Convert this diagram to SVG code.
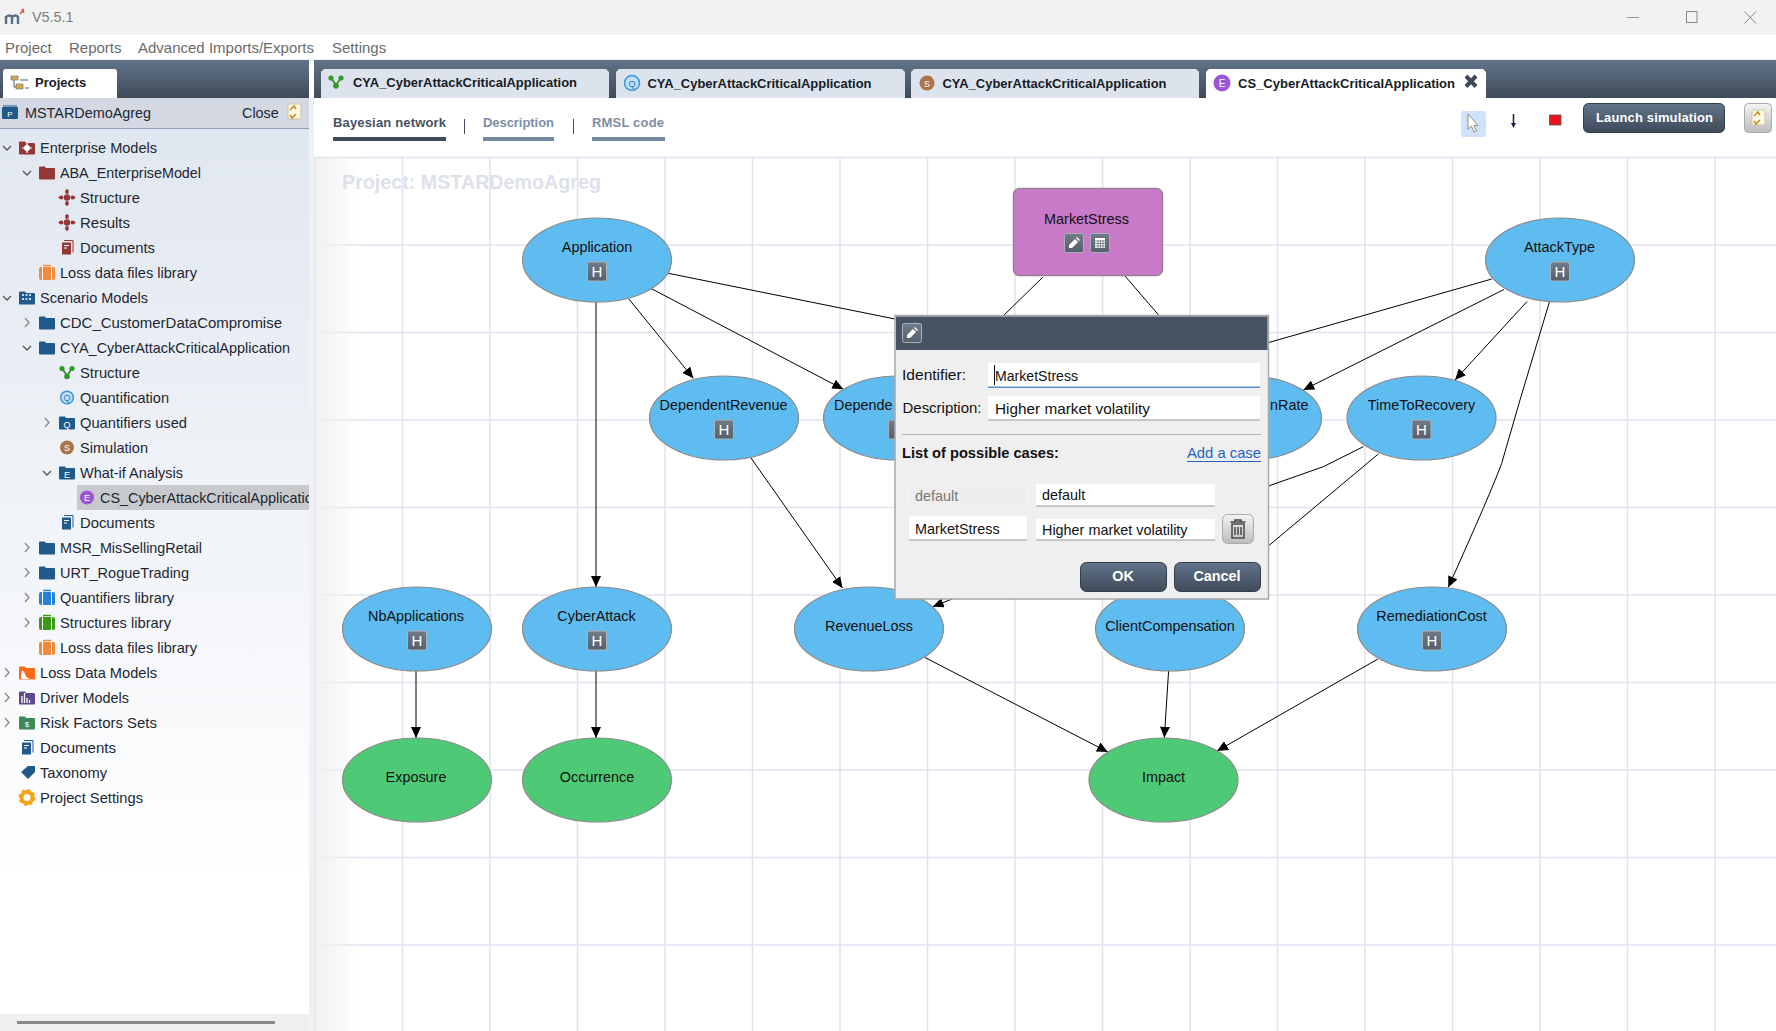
<svg xmlns="http://www.w3.org/2000/svg" width="1776" height="1031" viewBox="0 0 1776 1031">
<style>
text{font-family:"Liberation Sans",Arial,sans-serif;font-size:14.4px;fill:#111}
.t{fill:#1c2733}
.m{fill:#6b6b6b;font-size:15px}
.tab{font-size:13px;font-weight:bold;fill:#151b24}
.sub{font-size:13px;font-weight:bold;fill:#7d8da5}
.c{text-anchor:middle}
.wb{font-weight:bold;fill:#fff;text-anchor:middle}
.g{stroke:#dfe3ee;stroke-width:1.5;fill:none}
.e{stroke:#000;stroke-width:1;fill:none;marker-end:url(#arr)}
.l{stroke:#000;stroke-width:1;fill:none}
.n{stroke:#8a8a8a;stroke-width:1.2}
.blue{fill:#5fbcf0}
.green{fill:#4eca76}
.hb{fill:url(#hg);stroke:#a9b1ba;stroke-width:1}
.h{fill:#fff;font-size:15px;text-anchor:middle}
.inp{fill:#fff}
.ch{fill:none;stroke:#555;stroke-width:1.3}
.btn{fill:url(#dark);stroke:#333d4a;stroke-width:1}
</style>
<defs>
<linearGradient id="dark" x1="0" y1="0" x2="0" y2="1"><stop offset="0" stop-color="#62748a"/><stop offset="1" stop-color="#3f4a59"/></linearGradient>
<linearGradient id="hg" x1="0" y1="0" x2="0" y2="1"><stop offset="0" stop-color="#717c89"/><stop offset="1" stop-color="#56606c"/></linearGradient>
<linearGradient id="tree" x1="0" y1="0" x2="0" y2="1"><stop offset="0" stop-color="#e1e7f0"/><stop offset="0.85" stop-color="#fff"/><stop offset="1" stop-color="#fff"/></linearGradient>
<linearGradient id="fade" x1="0" y1="0" x2="1" y2="0"><stop offset="0" stop-color="#f1f1f1"/><stop offset="1" stop-color="#f1f1f1" stop-opacity="0"/></linearGradient>
<linearGradient id="gb" x1="0" y1="0" x2="0" y2="1"><stop offset="0" stop-color="#f4f4f4"/><stop offset="1" stop-color="#bcbcbc"/></linearGradient>
<marker id="arr" markerUnits="userSpaceOnUse" markerWidth="12" markerHeight="10" refX="11" refY="5" orient="auto"><path d="M0 0L11 5L0 10Z" fill="#000"/></marker>
<clipPath id="treeclip"><rect x="0" y="129" width="309" height="885"/></clipPath>
<g id="folder"><path d="M-8-5q0-1 1-1h5l1 1.5h8q1 0 1 1V6q0 1-1 1H-7q-1 0-1-1Z" fill="currentColor"/></g>
<g id="suit"><rect x="-8" y="-5.500" width="16" height="13" rx="2" fill="currentColor"/><path d="M-4.500-5.500V-7.500H4.500V-5.500M-4.500-5.500V7.500M4.500-5.500V7.500" fill="none" stroke="#fff" stroke-width="1"/><path d="M-4-7H4" stroke="currentColor" stroke-width="1.500"/></g>
<g id="doc"><rect x="-5" y="-5" width="9" height="12" fill="currentColor"/><path d="M-3-7H6V5" fill="none" stroke="currentColor" stroke-width="1"/><path d="M-3-2H2M-3 0.500H0" stroke="#fff" stroke-width="1"/></g>
<g id="cross" fill="currentColor"><circle r="3.200"/><circle cy="-5.500" r="1.900"/><circle cy="5.500" r="1.900"/><circle cx="-5.500" r="1.900"/><circle cx="5.500" r="1.900"/><path d="M-6.500-2L-8.800 0L-6.500 2ZM6.500-2L8.800 0L6.500 2ZM-2-6.500L0-8.800L2-6.500ZM-2 6.500L0 8.800L2 6.500Z"/></g>
<g id="struct"><path d="M-5-4L0 3L5-4" fill="none" stroke="#2f8f2a" stroke-width="1.800"/><circle cx="-5" cy="-4" r="2.600" fill="#2f9a2a"/><circle cx="5" cy="-4" r="2.600" fill="#2f9a2a"/><circle cy="4" r="2.800" fill="#2f9a2a"/></g>
<g id="pen"><path d="M-5 5L-5 2L1-4L4-1L-2 5Z" fill="#fff"/><path d="M2-5L3-6L6-3L5-2Z" fill="#fff"/></g>
<g id="swap"><rect x="-6" y="-8" width="13" height="15" rx="1" fill="#fdf8e6" stroke="#c9c4a8"/><path d="M-4-2L0-6L2-3M2 2L-2 6L-4 3" stroke="#c98a12" stroke-width="1.500" fill="none"/></g>
</defs>

<rect width="1776" height="1031" fill="#fff"/>
<g id="titlebar">
<rect width="1776" height="35" fill="#f2f2f2"/>
<path d="M6 24V16M6 17Q10 14 12 17V24M12 17Q16 14 18 17V24" fill="none" stroke="#5c6f88" stroke-width="2.400"/>
<path d="M20 14L24 9M22 9L24 13" stroke="#d8564a" stroke-width="1.500"/>
<text x="32" y="22" style="fill:#7d7d7d">V5.5.1</text>
<path d="M1627 17.500H1639" stroke="#999"/>
<rect x="1686.500" y="11.500" width="10.500" height="11" fill="none" stroke="#888"/>
<path d="M1744.500 11.500L1756 23.500M1756 11.500L1744.500 23.500" stroke="#888"/>
</g>
<g id="menubar">
<rect y="35" width="1776" height="24" fill="#fff"/>
<rect y="59" width="1776" height="2" fill="#eef0f3"/>
<text x="5" y="53" class="m">Project</text>
<text x="69" y="53" class="m">Reports</text>
<text x="138" y="53" class="m">Advanced Imports/Exports</text>
<text x="332" y="53" class="m">Settings</text>
</g>

<g id="left-panel">
<rect y="60" width="309" height="38" fill="url(#dark)"/>
<path d="M3 98V72q0-3 3-3H114q3 0 3 3V98Z" fill="#fff"/>
<path d="M11 76h7v4h-7zM16 84h7v5h-7z" fill="#d8a948" stroke="#6a7a8c" stroke-width="0.700"/>
<path d="M14 80V87H16M20 80H28M25 88H29" stroke="#4a5a6c" fill="none"/>
<text x="35" y="87" class="tab">Projects</text>
<rect y="98" width="309" height="30" fill="#d3d8e2"/>
<rect y="128" width="309" height="1.500" fill="#8ea0b8"/>
<rect x="2" y="107" width="16" height="12" rx="1" fill="#1f5a8a"/>
<path d="M3 106H17" stroke="#1f5a8a" stroke-width="1"/>
<text x="10" y="117" class="c" style="font-size:8px;fill:#fff">P</text>
<text x="25" y="118" class="t">MSTARDemoAgreg</text>
<text x="242" y="118" class="t">Close</text>
<use href="#swap" x="294" y="112"/>
<rect y="129" width="309" height="885" fill="url(#tree)"/>
<rect y="1014" width="315" height="17" fill="#efefef"/>
<rect x="309" y="98" width="5" height="933" fill="#f0f1f4"/>
<rect x="17" y="1021" width="258" height="3" fill="#888"/>
<rect x="77" y="485" width="232" height="25" fill="#c9cacd"/>

<g id="tree-icons">
<use href="#folder" x="27" y="147.500" style="color:#953737"/><circle cx="27" cy="148" r="3" fill="#fff"/><path d="M27 143v10M22 148h10" stroke="#fff" stroke-width="1.200"/>
<use href="#folder" x="47" y="172.500" style="color:#953737"/>
<use href="#cross" x="67" y="197.500" style="color:#953737"/>
<use href="#cross" x="67" y="222.500" style="color:#953737"/>
<use href="#doc" x="67" y="247.500" style="color:#953737"/>
<use href="#suit" x="47" y="272.500" style="color:#f08a3c"/>
<use href="#folder" x="27" y="297.500" style="color:#1f5a8a"/><path d="M22 295h10M22 299h10" stroke="#fff" stroke-width="1.500" stroke-dasharray="2 1.500"/>
<use href="#folder" x="47" y="322.500" style="color:#1f5a8a"/>
<use href="#folder" x="47" y="347.500" style="color:#1f5a8a"/>
<use href="#struct" x="67" y="372.500"/>
<circle cx="67" cy="397.500" r="6.300" fill="#bfe0f8" stroke="#3a94dc" stroke-width="1.500"/><text x="67" y="401" class="c" style="font-size:9px;fill:#2a78c0">Q</text>
<use href="#folder" x="67" y="422.500" style="color:#1f5a8a"/><text x="67" y="428" class="c" style="font-size:9px;fill:#fff">Q</text>
<circle cx="67" cy="447.500" r="7" fill="#ad7448"/><text x="67" y="451" class="c" style="font-size:9px;fill:#fff">S</text>
<use href="#folder" x="67" y="472.500" style="color:#1f5a8a"/><text x="67" y="478" class="c" style="font-size:9px;fill:#fff">E</text>
<circle cx="87" cy="497.500" r="7" fill="#9a56d4"/><text x="87" y="501" class="c" style="font-size:9px;fill:#fff">E</text>
<use href="#doc" x="67" y="522.500" style="color:#1f5a8a"/>
<use href="#folder" x="47" y="547.500" style="color:#1f5a8a"/>
<use href="#folder" x="47" y="572.500" style="color:#1f5a8a"/>
<use href="#suit" x="47" y="597.500" style="color:#2282d8"/>
<use href="#suit" x="47" y="622.500" style="color:#3a9a14"/>
<use href="#suit" x="47" y="647.500" style="color:#f08a3c"/>
<use href="#folder" x="27" y="672.500" style="color:#ff6a1a"/><path d="M21 679V673Q23 668 25 674T33 679Z" fill="#fff"/>
<use href="#folder" x="27" y="697.500" style="color:#5c4a8c"/><path d="M22 703V696M24.500 703V693M27 703V698M29.500 703V700" stroke="#fff" stroke-width="1.300"/>
<use href="#folder" x="27" y="722.500" style="color:#3d8a58"/><text x="27" y="727" class="c" style="font-size:8px;fill:#fff">$</text>
<use href="#doc" x="27" y="747.500" style="color:#1f5a8a"/>
<path d="M21 772L28 766H35V772L28 779Z" fill="#1f5a8a"/>
<circle cx="27" cy="797.500" r="5.500" fill="none" stroke="#f4a31c" stroke-width="4"/><circle cx="27" cy="797.500" r="7.500" fill="none" stroke="#f4a31c" stroke-width="2" stroke-dasharray="3 2.900"/>
</g>
<g id="tree-chevrons" class="ch">
<path d="M3 146L7 150L11 146M23 171L27 175L31 171M3 296L7 300L11 296M23 346L27 350L31 346M43 471L47 475L51 471"/>
<path d="M25 318L29 322.500L25 327M45 418L49 422.500L45 427M25 543L29 547.500L25 552M25 568L29 572.500L25 577M25 593L29 597.500L25 602M25 618L29 622.500L25 627M5 668L9 672.500L5 677M5 693L9 697.500L5 702M5 718L9 722.500L5 727" stroke="#888"/>
</g>
<g id="tree-labels" clip-path="url(#treeclip)" lengthAdjust="spacingAndGlyphs">
<text x="40" y="152.500" class="t" textLength="117" lengthAdjust="spacingAndGlyphs">Enterprise Models</text>
<text x="60" y="177.500" class="t" textLength="141" lengthAdjust="spacingAndGlyphs">ABA_EnterpriseModel</text>
<text x="80" y="202.500" class="t" textLength="60" lengthAdjust="spacingAndGlyphs">Structure</text>
<text x="80" y="227.500" class="t" textLength="50" lengthAdjust="spacingAndGlyphs">Results</text>
<text x="80" y="252.500" class="t" textLength="75" lengthAdjust="spacingAndGlyphs">Documents</text>
<text x="60" y="277.500" class="t" textLength="137" lengthAdjust="spacingAndGlyphs">Loss data files library</text>
<text x="40" y="302.500" class="t" textLength="108" lengthAdjust="spacingAndGlyphs">Scenario Models</text>
<text x="60" y="327.500" class="t" textLength="222" lengthAdjust="spacingAndGlyphs">CDC_CustomerDataCompromise</text>
<text x="60" y="352.500" class="t" textLength="230" lengthAdjust="spacingAndGlyphs">CYA_CyberAttackCriticalApplication</text>
<text x="80" y="377.500" class="t" textLength="60" lengthAdjust="spacingAndGlyphs">Structure</text>
<text x="80" y="402.500" class="t" textLength="89" lengthAdjust="spacingAndGlyphs">Quantification</text>
<text x="80" y="427.500" class="t" textLength="107" lengthAdjust="spacingAndGlyphs">Quantifiers used</text>
<text x="80" y="452.500" class="t" textLength="68" lengthAdjust="spacingAndGlyphs">Simulation</text>
<text x="80" y="477.500" class="t" textLength="103" lengthAdjust="spacingAndGlyphs">What-if Analysis</text>
<text x="100" y="502.500" class="t">CS_CyberAttackCriticalApplication</text>
<text x="80" y="527.500" class="t" textLength="75" lengthAdjust="spacingAndGlyphs">Documents</text>
<text x="60" y="552.500" class="t" textLength="142" lengthAdjust="spacingAndGlyphs">MSR_MisSellingRetail</text>
<text x="60" y="577.500" class="t" textLength="129" lengthAdjust="spacingAndGlyphs">URT_RogueTrading</text>
<text x="60" y="602.500" class="t" textLength="114" lengthAdjust="spacingAndGlyphs">Quantifiers library</text>
<text x="60" y="627.500" class="t" textLength="111" lengthAdjust="spacingAndGlyphs">Structures library</text>
<text x="60" y="652.500" class="t" textLength="137" lengthAdjust="spacingAndGlyphs">Loss data files library</text>
<text x="40" y="677.500" class="t" textLength="117" lengthAdjust="spacingAndGlyphs">Loss Data Models</text>
<text x="40" y="702.500" class="t" textLength="89" lengthAdjust="spacingAndGlyphs">Driver Models</text>
<text x="40" y="727.500" class="t" textLength="117" lengthAdjust="spacingAndGlyphs">Risk Factors Sets</text>
<text x="40" y="752.500" class="t" textLength="76" lengthAdjust="spacingAndGlyphs">Documents</text>
<text x="40" y="777.500" class="t" textLength="67" lengthAdjust="spacingAndGlyphs">Taxonomy</text>
<text x="40" y="802.500" class="t" textLength="103" lengthAdjust="spacingAndGlyphs">Project Settings</text>
</g>
</g>

<g id="tabs">
<rect x="314" y="60" width="1462" height="38" fill="url(#dark)"/>
<path d="M321 98V72l3-3H606l3 3V98Z" fill="#dce3ed"/>
<path d="M616 98V72l3-3H902l3 3V98Z" fill="#dce3ed"/>
<path d="M911 98V72l3-3H1196l3 3V98Z" fill="#dce3ed"/>
<path d="M1206 98V72l3-3H1483l3 3V98Z" fill="#fff"/>
<use href="#struct" x="336" y="82"/>
<text x="353" y="87" class="tab" textLength="224" lengthAdjust="spacingAndGlyphs">CYA_CyberAttackCriticalApplication</text>
<circle cx="632" cy="83" r="7.500" fill="#bfe0f8" stroke="#3a94dc" stroke-width="1.500"/><text x="632" y="87" class="c" style="font-size:9px;fill:#2a78c0">Q</text>
<text x="647.500" y="88" class="tab" textLength="224" lengthAdjust="spacingAndGlyphs">CYA_CyberAttackCriticalApplication</text>
<circle cx="927" cy="83" r="7.500" fill="#ad7448"/><text x="927" y="87" class="c" style="font-size:9px;fill:#fff">S</text>
<text x="942.500" y="88" class="tab" textLength="224" lengthAdjust="spacingAndGlyphs">CYA_CyberAttackCriticalApplication</text>
<circle cx="1222" cy="83" r="8.500" fill="#9a56d4"/><text x="1222" y="87" class="c" style="font-size:10px;fill:#fff">E</text>
<text x="1238" y="88" class="tab" textLength="217" lengthAdjust="spacingAndGlyphs">CS_CyberAttackCriticalApplication</text>
<path d="M1466 76L1476 86.500M1476 76L1466 86.500" stroke="#3f4a59" stroke-width="4"/>
</g>

<g id="subnav">
<text x="333" y="127" class="sub" style="fill:#46525f" textLength="113">Bayesian network</text>
<rect x="333" y="137" width="113" height="4" fill="#3f4a5a"/>
<path d="M464.500 119V134M573.500 119V134" stroke="#3f4a5a" stroke-width="1"/>
<text x="483" y="127" class="sub" textLength="71">Description</text>
<rect x="483" y="137" width="71" height="4" fill="#748aa3"/>
<text x="592" y="127" class="sub" textLength="72">RMSL code</text>
<rect x="592" y="137" width="73" height="4" fill="#748aa3"/>
</g>

<g id="toolbar">
<rect x="1461" y="111" width="25" height="26" rx="3" fill="#cfe2fa"/>
<path d="M1468 114V129L1471.500 126L1474 132L1476.500 131L1474 125.500H1478Z" fill="#fff" stroke="#7a7a60" stroke-width="0.800"/>
<path d="M1513.500 114V124" stroke="#1a1a4a" stroke-width="1.500"/><path d="M1511 123H1516L1513.500 128Z" fill="#1a1a4a"/>
<rect x="1549.500" y="115" width="11.500" height="10" fill="#ec141c" stroke="#555" stroke-width="0.800"/>
<rect x="1583.500" y="103.500" width="141" height="29" rx="5" class="btn"/>
<text x="1596" y="122" style="font-size:13px;font-weight:bold;fill:#fff" textLength="117">Launch simulation</text>
<rect x="1744.500" y="103.500" width="27" height="29" rx="4" fill="url(#gb)" stroke="#aaa"/>
<use href="#swap" x="1758" y="118"/>
</g>

<g id="canvas-grid">
<path class="g" d="M314 157.500H1776M315 245H1776M315 332.500H1776M315 420H1776M315 507.500H1776M315 595H1776M315 682.500H1776M315 770H1776M315 857.500H1776M315 945H1776"/>
<path class="g" d="M315 158V1031M402.500 158V1031M490 158V1031M577.500 158V1031M665 158V1031M752.500 158V1031M840 158V1031M927.500 158V1031M1015 158V1031M1102.500 158V1031M1190 158V1031M1277.500 158V1031M1365 158V1031M1452.500 158V1031M1540 158V1031M1627.500 158V1031M1715 158V1031"/>
<rect x="316" y="158" width="46" height="873" fill="url(#fade)"/>
<text x="342" y="189" style="font-size:20px;font-weight:bold;fill:#dde1e9" textLength="259" lengthAdjust="spacingAndGlyphs">Project: MSTARDemoAgreg</text>
</g>

<g id="connectors">
<path class="l" d="M668.300 273.300L900 320"/>
<path class="e" d="M628.300 298.300L693.300 378.300"/>
<path class="e" d="M650.700 288.300L843.300 389.300"/>
<path class="e" d="M596 302V587"/>
<path class="l" d="M1042.700 277.300L1000 319"/>
<path class="l" d="M1125 276L1162 319"/>
<path class="l" d="M1491.800 279L1260 345"/>
<path class="e" d="M1504 289.500L1303.300 390"/>
<path class="e" d="M1527 301.500L1455 380"/>
<path class="e" d="M1550 300L1520 400L1501.700 463.300Q1492 490 1448.300 587.300"/>
<path class="l" d="M1363.300 446.700L1323.300 466.700L1260 489"/>
<path class="l" d="M1378.300 454L1260 553"/>
<path class="e" d="M751 458L842.500 588"/>
<path class="e" d="M1000 580L932.700 606.700"/>
<path class="e" d="M924.600 657.300L1107.900 752"/>
<path class="e" d="M1168.600 671L1164.300 737.700"/>
<path class="e" d="M1377.900 659L1217 751"/>
<path class="e" d="M416 671V738"/>
<path class="e" d="M596 671V738"/>
</g>

<g id="node-Application"><ellipse class="n blue" cx="597" cy="260" rx="74.500" ry="42"/><text x="597" y="252" class="c">Application</text><rect class="hb" x="587.500" y="262" width="19" height="19" rx="2"/><text x="597" y="277" class="h">H</text></g>
<g id="node-DependentRevenue"><ellipse class="n blue" cx="724" cy="418" rx="74.500" ry="42"/><text x="723.500" y="410" class="c">DependentRevenue</text><rect class="hb" x="714.500" y="420" width="19" height="19" rx="2"/><text x="724" y="435" class="h">H</text></g>
<g id="node-Dependent"><ellipse class="n blue" cx="898" cy="418" rx="74.500" ry="42"/><text x="834" y="410">Depende</text><rect class="hb" x="888.500" y="420" width="19" height="19" rx="2"/></g>
<g id="node-Rate"><ellipse class="n blue" cx="1247" cy="418" rx="74.500" ry="42"/><text x="1270" y="410">nRate</text></g>
<g id="node-TimeToRecovery"><ellipse class="n blue" cx="1421.500" cy="418" rx="74.500" ry="42"/><text x="1421.500" y="410" class="c">TimeToRecovery</text><rect class="hb" x="1412" y="420" width="19" height="19" rx="2"/><text x="1421.500" y="435" class="h">H</text></g>
<g id="node-AttackType"><ellipse class="n blue" cx="1560" cy="260" rx="74.500" ry="42"/><text x="1559.500" y="252" class="c">AttackType</text><rect class="hb" x="1550.500" y="262" width="19" height="19" rx="2"/><text x="1560" y="277" class="h">H</text></g>
<g id="node-MarketStress"><rect x="1013.500" y="188.500" width="149" height="87" rx="6" fill="#c879c8" stroke="#998099" stroke-width="1.500"/><text x="1086.500" y="224" class="c">MarketStress</text>
<rect class="hb" x="1064.500" y="233.500" width="19" height="19" rx="2"/><use href="#pen" x="1074" y="243"/>
<rect class="hb" x="1090.500" y="233.500" width="19" height="19" rx="2"/><path d="M1095 238H1105V248H1095Z" fill="#fff"/><path d="M1095 241H1105M1095 243.500H1105M1095 246H1105M1098 240V248M1100.500 240V248M1103 240V248" stroke="#6a7480" stroke-width="0.800"/></g>
<g id="node-NbApplications"><ellipse class="n blue" cx="417" cy="629" rx="74.500" ry="42"/><text x="416" y="621" class="c">NbApplications</text><rect class="hb" x="407.500" y="631" width="19" height="19" rx="2"/><text x="417" y="646" class="h">H</text></g>
<g id="node-CyberAttack"><ellipse class="n blue" cx="597" cy="629" rx="74.500" ry="42"/><text x="596.500" y="621" class="c">CyberAttack</text><rect class="hb" x="587.500" y="631" width="19" height="19" rx="2"/><text x="597" y="646" class="h">H</text></g>
<g id="node-RevenueLoss"><ellipse class="n blue" cx="869" cy="629" rx="74.500" ry="42"/><text x="869" y="631" class="c">RevenueLoss</text></g>
<g id="node-ClientCompensation"><ellipse class="n blue" cx="1170" cy="629" rx="74.500" ry="42"/><text x="1170" y="631" class="c">ClientCompensation</text></g>
<g id="node-RemediationCost"><ellipse class="n blue" cx="1432" cy="629" rx="74.500" ry="42"/><text x="1431.500" y="621" class="c">RemediationCost</text><rect class="hb" x="1422.500" y="631" width="19" height="19" rx="2"/><text x="1432" y="646" class="h">H</text></g>
<g id="node-Exposure"><ellipse class="n green" cx="417" cy="780" rx="74.500" ry="42"/><text x="416" y="782" class="c">Exposure</text></g>
<g id="node-Occurrence"><ellipse class="n green" cx="597" cy="780" rx="74.500" ry="42"/><text x="597" y="782" class="c">Occurrence</text></g>
<g id="node-Impact"><ellipse class="n green" cx="1163.500" cy="780" rx="74.500" ry="42"/><text x="1163.500" y="782" class="c">Impact</text></g>

<g id="dialog">
<rect x="895" y="315.500" width="373.500" height="283.500" fill="#efefef" stroke="#a8a8a8" stroke-width="1.500"/>
<rect x="896" y="316.500" width="371.500" height="33.500" fill="#475363"/>
<rect x="902.500" y="323.500" width="19" height="19" rx="2" class="hb"/><use href="#pen" x="912" y="333"/>
<text x="902" y="380" textLength="64" lengthAdjust="spacingAndGlyphs">Identifier:</text>
<rect class="inp" x="988" y="363" width="272" height="24"/><rect x="988" y="386.500" width="272" height="1.500" fill="#5b8fc7"/>
<path d="M994.500 365V385" stroke="#111"/>
<text x="995" y="381" textLength="83" lengthAdjust="spacingAndGlyphs">MarketStress</text>
<text x="902.500" y="413" textLength="79" lengthAdjust="spacingAndGlyphs">Description:</text>
<rect class="inp" x="988" y="396" width="272" height="24"/><rect x="988" y="419.500" width="272" height="1" fill="#999"/>
<text x="995" y="414" textLength="155" lengthAdjust="spacingAndGlyphs">Higher market volatility</text>
<rect x="902" y="434" width="359" height="1" fill="#b0b0b0"/>
<text x="902" y="458" style="font-weight:bold" textLength="157" lengthAdjust="spacingAndGlyphs">List of possible cases:</text>
<text x="1187" y="458" style="fill:#1f63c4" textLength="74" lengthAdjust="spacingAndGlyphs">Add a case</text>
<rect x="1187" y="461" width="74" height="1" fill="#1f63c4"/>
<rect x="909" y="483" width="118" height="24" fill="#eee" stroke="#f6f6f6"/>
<text x="915" y="501" style="fill:#777">default</text>
<rect class="inp" x="1036" y="484" width="179" height="22"/><rect x="1036" y="505.500" width="179" height="1" fill="#999"/>
<text x="1042" y="500">default</text>
<rect class="inp" x="909" y="516" width="118" height="24"/><rect x="909" y="539.500" width="118" height="1" fill="#999"/>
<text x="915" y="534">MarketStress</text>
<rect class="inp" x="1036" y="519" width="179" height="21"/><rect x="1036" y="539.500" width="179" height="1" fill="#999"/>
<text x="1042" y="535">Higher market volatility</text>
<rect x="1222.500" y="514.500" width="31" height="29" rx="5" fill="url(#gb)" stroke="#aaa"/>
<path d="M1232 524H1244V538H1232ZM1230.500 522H1245.500M1235 522V520H1241V522M1235 527V535M1238 527V535M1241 527V535" fill="none" stroke="#4a4a4a" stroke-width="1.500"/>
<rect x="1080.500" y="562.500" width="86" height="29" rx="6" class="btn"/>
<text x="1123" y="581" class="wb">OK</text>
<rect x="1174.500" y="562.500" width="86" height="29" rx="6" class="btn"/>
<text x="1217" y="581" class="wb">Cancel</text>
</g>
</svg>
